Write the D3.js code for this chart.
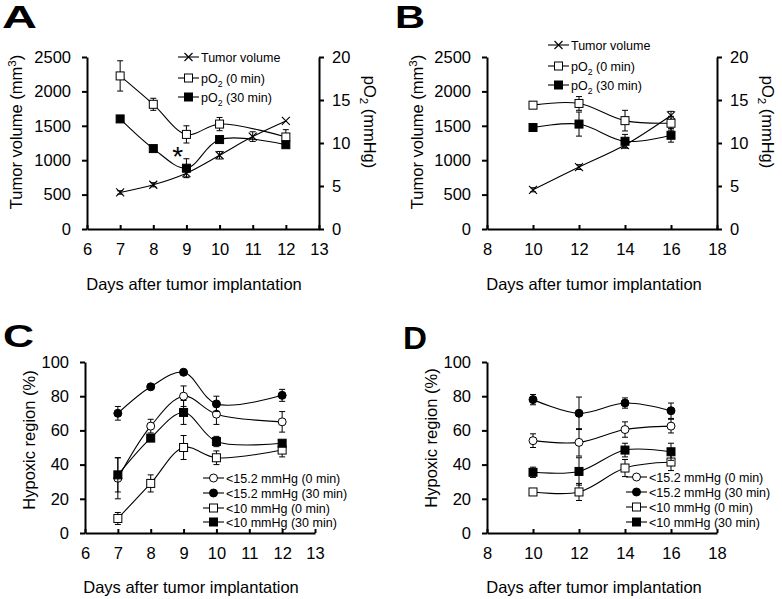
<!DOCTYPE html>
<html><head><meta charset="utf-8">
<script src="https://cdn.jsdelivr.net/npm/d3@7"></script>
<style>
body{margin:0;background:#fff;}
svg{display:block;font-family:"Liberation Sans",Arial,Helvetica,sans-serif;}
</style></head>
<body><svg id="c" width="782" height="599"></svg>
<script>
// ---------- Panel A data ----------
const daysA_tumor = [7, 8, 9, 10, 11, 12];
const tumorA = [531, 643, 812, 1072, 1343, 1570];
const tumorA_err = [25, 30, 55, 55, 70, 0];
const daysA_pO2 = [7, 8, 9, 10, 12];
const pO2_0A = [17.8, 14.5, 11.0, 12.2, 10.7];
const pO2_0A_err = [1.76, 0.7, 1.0, 0.77, 0.85];
const pO2_30A = [12.8, 9.35, 7.07, 10.4, 9.8];
const pO2_30A_err = [0.3, 0.2, 1.1, 0.3, 0.3];
// ---------- Panel B data ----------
const daysB = [10, 12, 14, 16];
const tumorB = [570, 900, 1220, 1650];
const tumorB_err = [30, 35, 40, 60];
const pO2_0B = [14.4, 14.6, 12.6, 12.3];
const pO2_0B_err = [0.4, 0.8, 1.2, 0.8];
const pO2_30B = [11.8, 12.2, 10.2, 10.9];
const pO2_30B_err = [0.3, 1.4, 0.8, 0.8];
// ---------- Panel C data ----------
const daysC = [7, 8, 9, 10, 12];
const c152_0 = [32, 62.5, 80, 69.5, 65];
const c152_0_err = [12, 4, 6, 6, 6];
const c152_30 = [70, 85.5, 94, 75.5, 80.5];
const c152_30_err = [4, 1, 1, 4.5, 3.5];
const c10_0 = [8.5, 29, 50, 44, 48.5];
const c10_0_err = [3.5, 5, 7, 4, 4];
const c10_30 = [34, 55.5, 70.5, 53.5, 52.5];
const c10_30_err = [10, 2, 7, 3, 1];
// ---------- Panel D data ----------
const daysD = [10, 12, 14, 16];
const d152_0 = [54, 53, 60.5, 62.5];
const d152_0_err = [4, 8, 4.5, 4];
const d152_30 = [78, 70, 76, 71.5];
const d152_30_err = [3, 9.5, 3, 4.5];
const d10_0 = [24, 24, 38, 41.5];
const d10_0_err = [1.5, 5, 5, 5];
const d10_30 = [35.5, 36, 48.5, 47.5];
const d10_30_err = [3, 8, 4, 5];
// ---------- tick labels ----------
const ticksX_AC = [6, 7, 8, 9, 10, 11, 12, 13];
const ticksX_BD = [8, 10, 12, 14, 16, 18];
const ticksVol = [0, 500, 1000, 1500, 2000, 2500];
const ticksPO2 = [0, 5, 10, 15, 20];
const ticksHyp = [0, 20, 40, 60, 80, 100];
const legendAB = ["Tumor volume", "pO2 (0 min)", "pO2 (30 min)"];
const legendCD = ["<15.2 mmHg (0 min)", "<15.2 mmHg (30 min)", "<10 mmHg (0 min)", "<10 mmHg (30 min)"];

const svg = d3.select("#c");
const curve = d3.curveCatmullRom.alpha(0.5);
const fmt = d3.format("d");

function drawMarker(g, type, x, y) {
  const s = 4;
  if (type === "cross") {
    g.append("path").attr("d", `M${x-s},${y-s}L${x+s},${y+s}M${x-s},${y+s}L${x+s},${y-s}`)
      .attr("stroke", "#000").attr("stroke-width", 1.1).attr("fill", "none");
  } else if (type === "sqOpen" || type === "sqFill") {
    g.append("rect").attr("x", x-s).attr("y", y-s).attr("width", 2*s).attr("height", 2*s)
      .attr("fill", type === "sqFill" ? "#000" : "#fff").attr("stroke", "#000").attr("stroke-width", 1);
  } else {
    g.append("circle").attr("cx", x).attr("cy", y).attr("r", s)
      .attr("fill", type === "ciFill" ? "#000" : "#fff").attr("stroke", "#000").attr("stroke-width", 1);
  }
}

function drawSeries(g, x, y, days, vals, errs, type) {
  const pts = days.map((d, i) => [d, vals[i], errs[i]]);
  pts.forEach(p => {
    if (p[2] > 0) {
      const xx = x(p[0]), y1 = y(p[1] + p[2]), y2 = y(p[1] - p[2]);
      g.append("path").attr("d", `M${xx},${y1}L${xx},${y2}M${xx-3},${y1}L${xx+3},${y1}M${xx-3},${y2}L${xx+3},${y2}`)
        .attr("stroke", "#000").attr("stroke-width", 1).attr("fill", "none");
    }
  });
  g.append("path").datum(pts)
    .attr("d", d3.line().x(p => x(p[0])).y(p => y(p[1])).curve(curve))
    .attr("fill", "none").attr("stroke", "#000").attr("stroke-width", 1.1);
  pts.forEach(p => drawMarker(g, type, x(p[0]), y(p[1])));
}

function styleAxis(a) {
  a.selectAll("path.domain").attr("stroke", "#000").attr("stroke-width", 2);
  a.selectAll(".tick line").attr("stroke", "#000").attr("stroke-width", 2);
  a.selectAll("text").attr("font-size", 16.5).attr("fill", "#000").attr("font-family", "Liberation Sans, Arial, sans-serif");
}

function drawFrame(g, x, y, xticks, yticks, yR, yRticks) {
  const [x0, x1] = x.range();
  const ax = g.append("g").attr("transform", `translate(0,${y.range()[0]})`)
    .call(d3.axisBottom(x).tickValues(xticks).tickFormat(fmt).tickSizeInner(-4).tickSizeOuter(0).tickPadding(14));
  styleAxis(ax);
  const ay = g.append("g").attr("transform", `translate(${x0},0)`)
    .call(d3.axisLeft(y).tickValues(yticks).tickFormat(fmt).tickSizeInner(5).tickSizeOuter(0).tickPadding(11));
  styleAxis(ay);
  if (yR) {
    const ar = g.append("g").attr("transform", `translate(${x1},0)`)
      .call(d3.axisRight(yR).tickValues(yRticks).tickFormat(fmt).tickSizeInner(5).tickSizeOuter(0).tickPadding(8));
    styleAxis(ar);
  }
}

function letter(g, txt, x, y, w) {
  g.append("text").attr("x", x).attr("y", y).attr("font-size", 32).attr("font-weight", "bold")
    .attr("textLength", w).attr("lengthAdjust", "spacingAndGlyphs")
    .attr("fill", "#000").text(txt);
}
function rotLabel(g, x, y, angle, build) {
  const t = g.append("text").attr("transform", `translate(${x},${y}) rotate(${angle})`)
    .attr("text-anchor", "middle").attr("font-size", 16.5).attr("fill", "#000");
  build(t);
}
function pO2Text(t, suffix) {
  t.append("tspan").text("pO");
  t.append("tspan").attr("font-size", "0.7em").attr("dy", 4).text("2");
  t.append("tspan").attr("dy", -4).text(suffix);
}
function volText(t) {
  t.append("tspan").text("Tumor volume (mm");
  t.append("tspan").attr("font-size", "0.7em").attr("dy", -6).text("3");
  t.append("tspan").attr("dy", 6).text(")");
}

function legend(g, x0, rows, items, types, fs) {
  items.forEach((txt, i) => {
    const yy = rows[i];
    g.append("line").attr("x1", x0).attr("x2", x0 + 21).attr("y1", yy).attr("y2", yy)
      .attr("stroke", "#000").attr("stroke-width", 1.1);
    drawMarker(g, types[i], x0 + 10.5, yy);
    const t = g.append("text").attr("x", x0 + 23).attr("y", yy + 4.5).attr("font-size", fs).attr("fill", "#000");
    if (txt.startsWith("pO2")) pO2Text(t, txt.slice(3));
    else t.text(txt);
  });
}

function xTitle(g, x, y) {
  g.append("text").attr("x", x).attr("y", y).attr("text-anchor", "middle").attr("font-size", 16.5)
    .attr("fill", "#000").text("Days after tumor implantation");
}

// ===== Panel A =====
{
  const g = svg.append("g");
  const x = d3.scaleLinear().domain([6, 13]).range([87, 319]);
  const y = d3.scaleLinear().domain([0, 2500]).range([229, 57]);
  const yR = d3.scaleLinear().domain([0, 20]).range([229, 57]);
  drawFrame(g, x, y, ticksX_AC, ticksVol, yR, ticksPO2);
  drawSeries(g, x, y, daysA_tumor, tumorA, tumorA_err, "cross");
  drawSeries(g, x, yR, daysA_pO2, pO2_0A, pO2_0A_err, "sqOpen");
  drawSeries(g, x, yR, daysA_pO2, pO2_30A, pO2_30A_err, "sqFill");
  g.append("text").attr("x", x(8.74)).attr("y", y(1111) + 13).attr("text-anchor", "middle")
    .attr("font-size", 28).attr("fill", "#000").text("*");
  legend(g, 178, [57, 78, 97], legendAB, ["cross", "sqOpen", "sqFill"], 12.5);
  letter(g, "A", 2, 28, 35);
  rotLabel(g, 22, 132, -90, volText);
  rotLabel(g, 364, 122, 90, t => pO2Text(t, " (mmHg)"));
  xTitle(g, 194, 290);
}
// ===== Panel B =====
{
  const g = svg.append("g");
  const x = d3.scaleLinear().domain([8, 18]).range([487, 717]);
  const y = d3.scaleLinear().domain([0, 2500]).range([229, 57]);
  const yR = d3.scaleLinear().domain([0, 20]).range([229, 57]);
  drawFrame(g, x, y, ticksX_BD, ticksVol, yR, ticksPO2);
  drawSeries(g, x, y, daysB, tumorB, tumorB_err, "cross");
  drawSeries(g, x, yR, daysB, pO2_0B, pO2_0B_err, "sqOpen");
  drawSeries(g, x, yR, daysB, pO2_30B, pO2_30B_err, "sqFill");
  legend(g, 548, [45, 66, 85], legendAB, ["cross", "sqOpen", "sqFill"], 12.5);
  letter(g, "B", 395, 28, 30);
  rotLabel(g, 423, 132, -90, volText);
  rotLabel(g, 762, 122, 90, t => pO2Text(t, " (mmHg)"));
  xTitle(g, 594, 290);
}
// ===== Panel C =====
{
  const g = svg.append("g");
  const x = d3.scaleLinear().domain([6, 13]).range([85, 315]);
  const y = d3.scaleLinear().domain([0, 100]).range([533, 362]);
  drawFrame(g, x, y, ticksX_AC, ticksHyp);
  drawSeries(g, x, y, daysC, c152_0, c152_0_err, "ciOpen");
  drawSeries(g, x, y, daysC, c152_30, c152_30_err, "ciFill");
  drawSeries(g, x, y, daysC, c10_0, c10_0_err, "sqOpen");
  drawSeries(g, x, y, daysC, c10_30, c10_30_err, "sqFill");
  legend(g, 203, [478, 493, 508, 522], legendCD, ["ciOpen", "ciFill", "sqOpen", "sqFill"], 12.5);
  letter(g, "C", 3, 347, 31);
  rotLabel(g, 35, 440, -90, t => t.text("Hypoxic region (%)"));
  xTitle(g, 191, 593);
}
// ===== Panel D =====
{
  const g = svg.append("g");
  const x = d3.scaleLinear().domain([8, 18]).range([487, 717]);
  const y = d3.scaleLinear().domain([0, 100]).range([533, 362]);
  drawFrame(g, x, y, ticksX_BD, ticksHyp);
  drawSeries(g, x, y, daysD, d152_0, d152_0_err, "ciOpen");
  drawSeries(g, x, y, daysD, d152_30, d152_30_err, "ciFill");
  drawSeries(g, x, y, daysD, d10_0, d10_0_err, "sqOpen");
  drawSeries(g, x, y, daysD, d10_30, d10_30_err, "sqFill");
  legend(g, 626, [477, 492, 507, 522], legendCD, ["ciOpen", "ciFill", "sqOpen", "sqFill"], 12.5);
  letter(g, "D", 403, 349, 24);
  rotLabel(g, 437, 438, -90, t => t.text("Hypoxic region (%)"));
  xTitle(g, 594, 593);
}
</script></body></html>
